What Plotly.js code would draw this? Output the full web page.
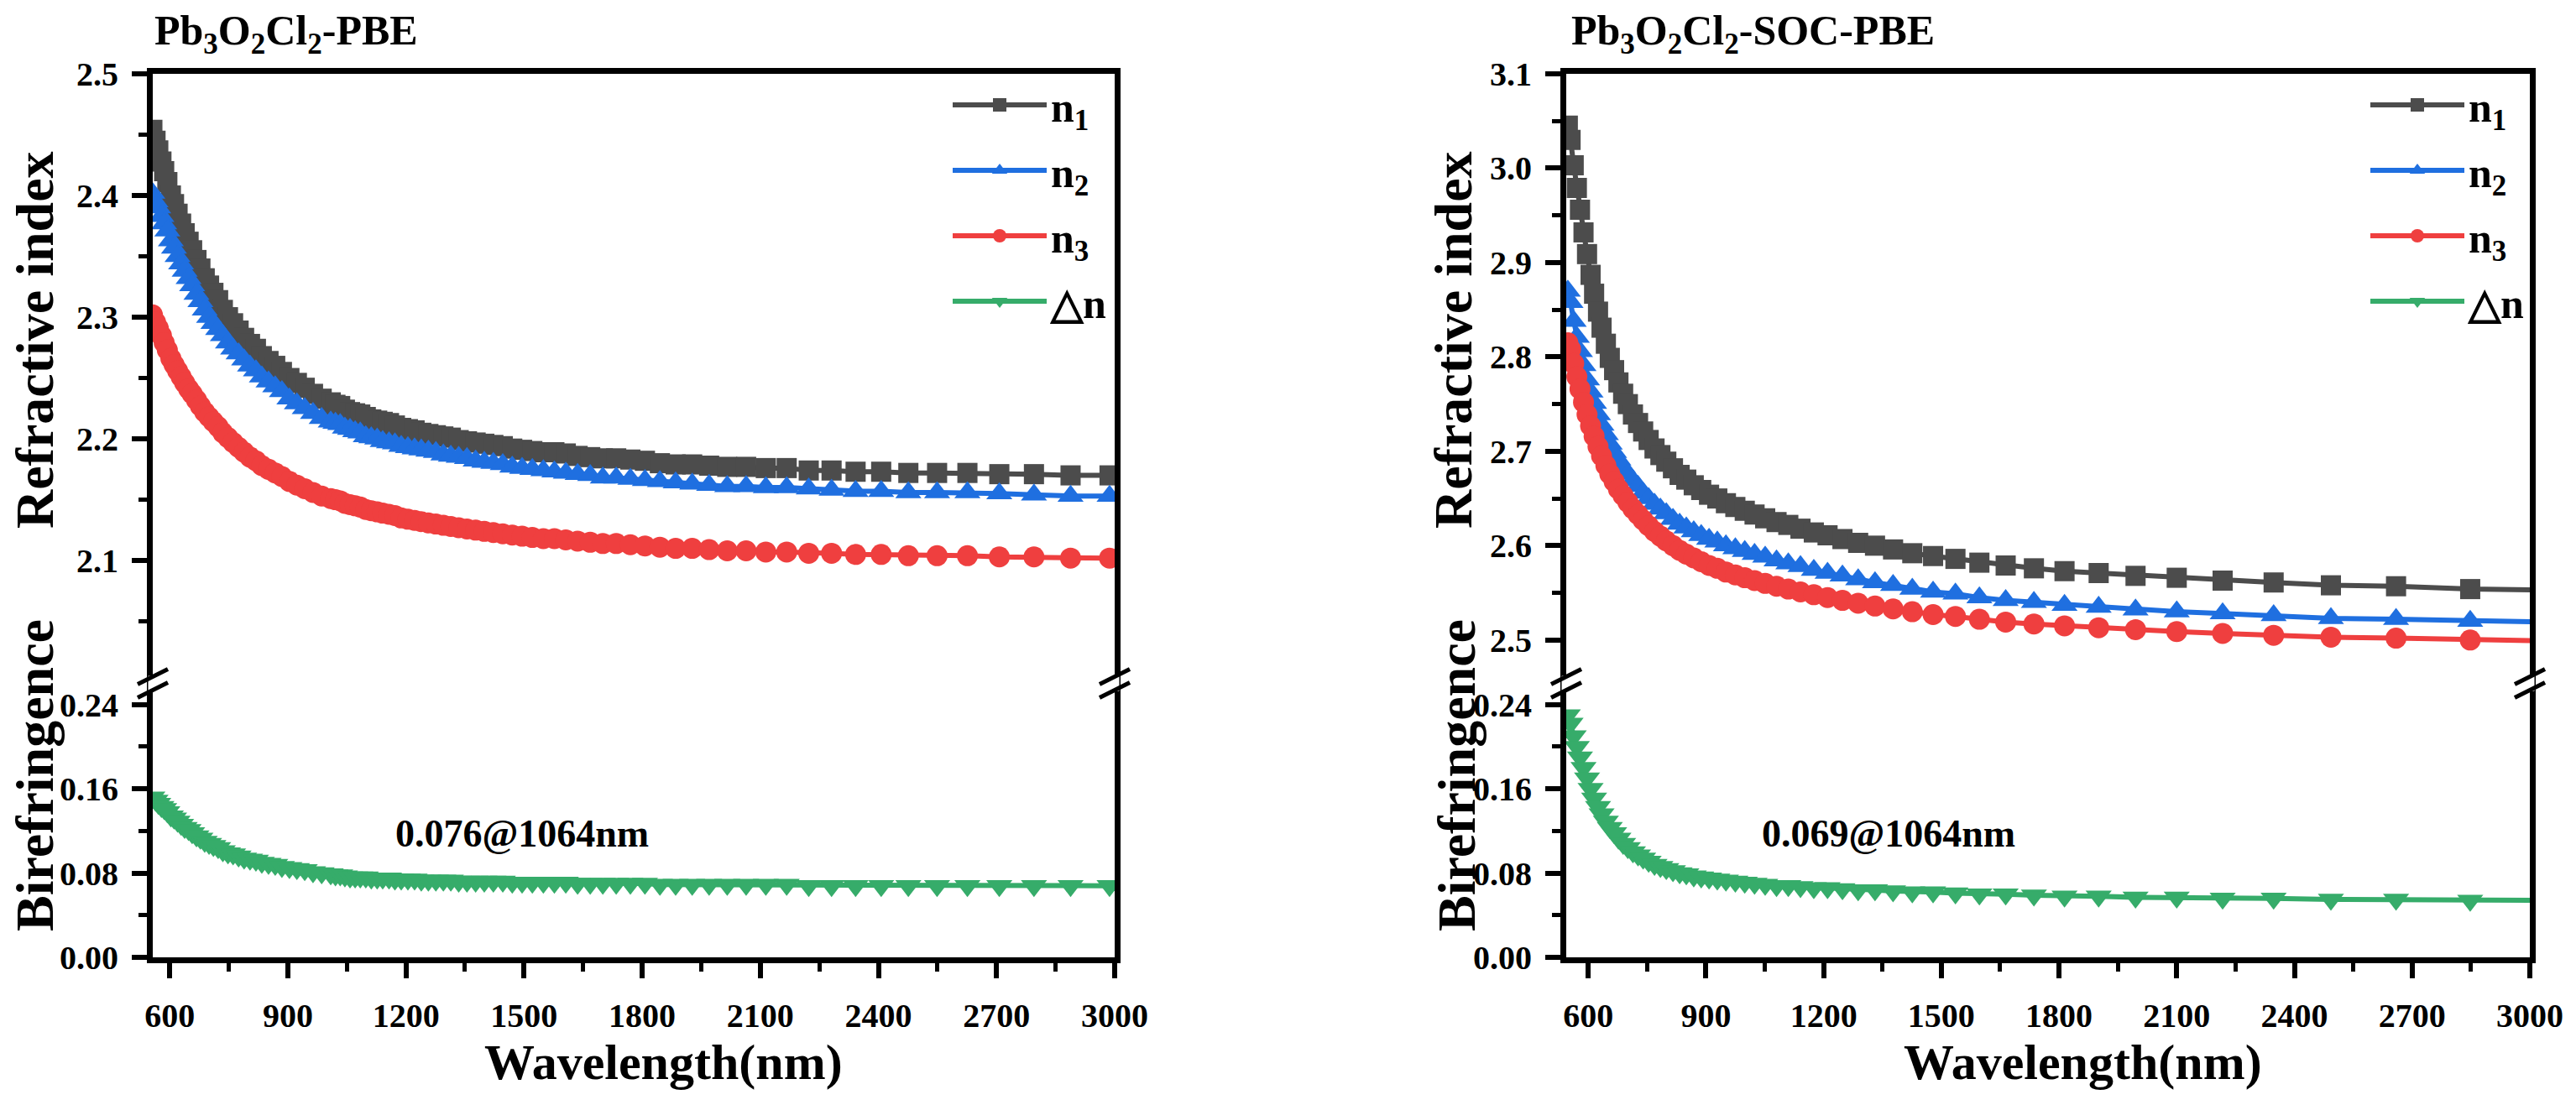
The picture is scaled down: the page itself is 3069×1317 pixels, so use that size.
<!DOCTYPE html>
<html>
<head>
<meta charset="utf-8">
<script src="https://cdn.plot.ly/plotly-3.0.1.min.js"></script>
<style>html,body{margin:0;padding:0;background:#fff;}#chart{width:3069px;height:1317px;}</style>
</head>
<body>
<div id="chart"></div>
<script>
// ---------- Data: Pb3O2Cl2-PBE (left) ----------
const wlL = [556,564,571,579,586,594,603,611,620,629,638,648,657,668,678,689,700,711,723,735,748,761,775,789,804,819,834,851,868,885,904,923,943,964,986,1009,1021,1033,1045,1058,1071,1084,1098,1112,1127,1141,1157,1172,1188,1205,1222,1239,1257,1276,1295,1314,1334,1355,1377,1399,1422,1446,1470,1495,1521,1549,1577,1606,1636,1668,1700,1734,1770,1807,1845,1885,1927,1970,2016,2064,2114,2167,2223,2281,2342,2407,2476,2549,2626,2707,2795,2888,2987];
const n1L = [2.454,2.445,2.437,2.428,2.420,2.411,2.400,2.393,2.385,2.377,2.369,2.362,2.355,2.347,2.340,2.332,2.326,2.320,2.314,2.306,2.300,2.295,2.289,2.283,2.278,2.274,2.268,2.264,2.260,2.255,2.250,2.246,2.242,2.237,2.233,2.230,2.228,2.227,2.224,2.222,2.221,2.220,2.218,2.216,2.215,2.214,2.213,2.211,2.209,2.208,2.207,2.205,2.204,2.203,2.202,2.201,2.199,2.198,2.197,2.196,2.195,2.194,2.192,2.191,2.190,2.189,2.189,2.188,2.186,2.185,2.184,2.184,2.183,2.182,2.180,2.179,2.179,2.178,2.177,2.177,2.176,2.176,2.174,2.174,2.173,2.173,2.172,2.172,2.172,2.171,2.171,2.170,2.170];
const n2L = [2.402,2.395,2.390,2.383,2.377,2.371,2.363,2.357,2.350,2.344,2.338,2.332,2.326,2.319,2.313,2.306,2.300,2.295,2.290,2.285,2.279,2.274,2.270,2.265,2.260,2.256,2.251,2.247,2.243,2.239,2.233,2.229,2.225,2.221,2.217,2.214,2.213,2.212,2.209,2.208,2.206,2.205,2.202,2.201,2.200,2.198,2.197,2.196,2.194,2.193,2.192,2.191,2.190,2.189,2.187,2.186,2.185,2.184,2.182,2.181,2.180,2.179,2.177,2.176,2.175,2.174,2.173,2.172,2.171,2.170,2.168,2.168,2.167,2.166,2.165,2.164,2.163,2.162,2.161,2.161,2.160,2.160,2.159,2.158,2.157,2.157,2.156,2.156,2.156,2.155,2.154,2.153,2.153];
const n3L = [2.302,2.296,2.291,2.285,2.279,2.273,2.266,2.261,2.256,2.251,2.246,2.241,2.237,2.232,2.227,2.222,2.218,2.214,2.210,2.205,2.201,2.197,2.193,2.189,2.185,2.182,2.178,2.175,2.172,2.169,2.165,2.162,2.159,2.156,2.153,2.151,2.150,2.149,2.147,2.146,2.145,2.144,2.142,2.141,2.140,2.139,2.138,2.137,2.135,2.134,2.133,2.132,2.131,2.130,2.129,2.128,2.127,2.126,2.125,2.124,2.123,2.122,2.121,2.120,2.119,2.118,2.118,2.117,2.116,2.115,2.114,2.114,2.113,2.112,2.111,2.110,2.110,2.109,2.108,2.108,2.107,2.107,2.106,2.106,2.105,2.105,2.104,2.104,2.104,2.103,2.103,2.102,2.102];
const dnL = [0.152,0.149,0.146,0.143,0.141,0.138,0.134,0.132,0.129,0.126,0.123,0.121,0.118,0.115,0.113,0.110,0.108,0.106,0.104,0.101,0.099,0.098,0.096,0.094,0.093,0.092,0.090,0.089,0.088,0.086,0.085,0.084,0.083,0.081,0.080,0.079,0.078,0.078,0.077,0.076,0.076,0.076,0.076,0.075,0.075,0.075,0.075,0.074,0.074,0.074,0.074,0.073,0.073,0.073,0.073,0.073,0.072,0.072,0.072,0.072,0.072,0.072,0.071,0.071,0.071,0.071,0.071,0.071,0.070,0.070,0.070,0.070,0.070,0.070,0.069,0.069,0.069,0.069,0.069,0.069,0.069,0.069,0.068,0.068,0.068,0.068,0.068,0.068,0.068,0.068,0.068,0.068,0.068];

// ---------- Data: Pb3O2Cl2-SOC-PBE (right) ----------
const wlR = [548,555,563,571,579,588,597,606,615,625,634,645,655,666,677,689,701,714,727,740,754,769,784,799,816,833,850,869,888,908,929,951,975,999,1024,1051,1080,1110,1141,1175,1210,1248,1288,1331,1377,1426,1479,1536,1597,1664,1736,1814,1901,1995,2100,2217,2347,2493,2659,2848,3066];
const n1R = [3.045,3.030,3.003,2.979,2.956,2.932,2.909,2.887,2.867,2.848,2.831,2.814,2.799,2.786,2.773,2.761,2.750,2.739,2.730,2.721,2.712,2.703,2.696,2.689,2.682,2.675,2.670,2.664,2.659,2.654,2.650,2.645,2.641,2.637,2.633,2.629,2.625,2.622,2.618,2.614,2.611,2.607,2.603,2.600,2.596,2.592,2.589,2.586,2.582,2.579,2.576,2.573,2.571,2.568,2.566,2.563,2.561,2.558,2.557,2.554,2.553];
const n2R = [2.870,2.858,2.838,2.821,2.806,2.791,2.776,2.763,2.751,2.739,2.728,2.718,2.708,2.699,2.691,2.683,2.676,2.669,2.663,2.656,2.650,2.644,2.639,2.634,2.628,2.623,2.619,2.615,2.611,2.607,2.604,2.600,2.597,2.594,2.591,2.588,2.584,2.581,2.578,2.574,2.571,2.568,2.564,2.561,2.558,2.554,2.551,2.549,2.545,2.542,2.540,2.537,2.535,2.532,2.530,2.528,2.526,2.523,2.522,2.520,2.519];
const n3R = [2.815,2.808,2.793,2.779,2.766,2.752,2.739,2.727,2.716,2.705,2.695,2.685,2.676,2.668,2.660,2.653,2.646,2.639,2.633,2.627,2.621,2.615,2.610,2.605,2.600,2.595,2.591,2.587,2.583,2.579,2.576,2.572,2.569,2.566,2.563,2.560,2.557,2.554,2.551,2.548,2.545,2.542,2.539,2.536,2.533,2.530,2.527,2.525,2.522,2.519,2.517,2.515,2.513,2.511,2.509,2.507,2.505,2.503,2.502,2.500,2.499];
const dnR = [0.230,0.222,0.210,0.200,0.190,0.180,0.170,0.160,0.151,0.143,0.136,0.129,0.123,0.118,0.113,0.108,0.104,0.100,0.097,0.094,0.091,0.088,0.086,0.084,0.082,0.080,0.079,0.077,0.076,0.075,0.074,0.073,0.072,0.071,0.070,0.069,0.068,0.068,0.067,0.066,0.066,0.065,0.064,0.064,0.063,0.062,0.062,0.061,0.060,0.060,0.059,0.058,0.058,0.057,0.057,0.056,0.056,0.055,0.055,0.054,0.054];

// ---------- Tick labels ----------
const xTickVals = [600,900,1200,1500,1800,2100,2400,2700,3000];
const xTickText = ['600','900','1200','1500','1800','2100','2400','2700','3000'];
const xMinorVals = [750,1050,1350,1650,1950,2250,2550,2850];
const bTickVals = [0,0.08,0.16,0.24];
const bTickText = ['0.00','0.08','0.16','0.24'];
const bMinorVals = [0.04,0.12,0.20];
const rTickValsL = [2.1,2.2,2.3,2.4,2.5];
const rTickTextL = ['2.1','2.2','2.3','2.4','2.5'];
const rMinorValsL = [2.05,2.15,2.25,2.35,2.45];
const rTickValsR = [2.5,2.6,2.7,2.8,2.9,3.0,3.1];
const rTickTextR = ['2.5','2.6','2.7','2.8','2.9','3.0','3.1'];
const rMinorValsR = [2.55,2.65,2.75,2.85,2.95,3.05];
const seriesNames = ['n<sub>1</sub>','n<sub>2</sub>','n<sub>3</sub>','\u25B3n'];

// ---------- Styling ----------
const FAM = 'Liberation Serif, Times New Roman, serif';
const colors = ['#4c4c4c','#1f6fe0','#ef3f3f','#36ac6a'];
const symbols = ['square','triangle-up','circle','triangle-down'];
const msize = [24,27,25,27];

function tr(x, y, i, xa, ya, leg) {
  return {
    x: x, y: y, type: 'scatter', mode: 'lines+markers',
    name: seriesNames[i], xaxis: xa, yaxis: ya, legend: leg, legendgroup: leg + i,
    line: {color: colors[i], width: 6},
    marker: {color: colors[i], symbol: symbols[i], size: msize[i], line: {width: 0}},
    cliponaxis: true, hoverinfo: 'skip'
  };
}

const data = [
  tr(wlL, n1L, 0, 'x2', 'y2', 'legend'),
  tr(wlL, n2L, 1, 'x2', 'y2', 'legend'),
  tr(wlL, n3L, 2, 'x2', 'y2', 'legend'),
  tr(wlL, dnL, 3, 'x', 'y', 'legend'),
  tr(wlR, n1R, 0, 'x4', 'y4', 'legend2'),
  tr(wlR, n2R, 1, 'x4', 'y4', 'legend2'),
  tr(wlR, n3R, 2, 'x4', 'y4', 'legend2'),
  tr(wlR, dnR, 3, 'x3', 'y3', 'legend2')
];

const W = 3069, H = 1317;
const domL = [182 / W, 1328 / W];
const domR = [1866 / W, 3014 / W];
const SPLIT = 0.31;
const tickFont = {family: FAM, size: 40, color: '#000', weight: 'bold'};

function xBottom(dom, range, anchor) {
  return {domain: dom, range: range, anchor: anchor, showline: true, linewidth: 7, linecolor: '#000',
    ticks: 'outside', ticklen: 18, tickwidth: 6, tickcolor: '#000',
    tickmode: 'array', tickvals: xTickVals, ticktext: xTickText,
    minor: {tickmode: 'array', tickvals: xMinorVals, ticks: 'outside', ticklen: 10, tickwidth: 5, tickcolor: '#000'},
    showgrid: false, zeroline: false, tickfont: tickFont, ticklabelstandoff: 10};
}
function xTop(dom, range, anchor) {
  return {domain: dom, range: range, anchor: anchor, side: 'top', showline: true, linewidth: 7, linecolor: '#000',
    ticks: '', showticklabels: false, showgrid: false, zeroline: false};
}
function yAx(dom, range, anchor, tv, tt, mv) {
  return {domain: dom, range: range, anchor: anchor, showline: true, mirror: true, linewidth: 7, linecolor: '#000',
    ticks: 'outside', ticklen: 18, tickwidth: 6, tickcolor: '#000',
    tickmode: 'array', tickvals: tv, ticktext: tt,
    minor: {tickmode: 'array', tickvals: mv, ticks: 'outside', ticklen: 10, tickwidth: 5, tickcolor: '#000'},
    showgrid: false, zeroline: false, tickfont: tickFont, ticklabelstandoff: 8};
}

function py(pix) { return (1141 - pix) / 1053; }
function ann(text, xpix, ypix, size, extra) {
  return Object.assign({text: text, x: xpix / W, y: py(ypix), xref: 'paper', yref: 'paper', showarrow: false,
    xanchor: 'center', yanchor: 'middle', font: {family: FAM, size: size, color: '#000', weight: 'bold'}}, extra || {});
}

const annotations = [
  ann('Pb<sub>3</sub>O<sub>2</sub>Cl<sub>2</sub>-PBE', 182, 40, 50, {xanchor: 'left'}),
  ann('Pb<sub>3</sub>O<sub>2</sub>Cl<sub>2</sub>-SOC-PBE', 1870, 40, 50, {xanchor: 'left'}),
  ann('Refractive index', 41, 405, 64, {textangle: -90}),
  ann('Birefringence', 41, 924, 64, {textangle: -90}),
  ann('Refractive index', 1731, 405, 64, {textangle: -90}),
  ann('Birefringence', 1735, 924, 64, {textangle: -90}),
  ann('Wavelength(nm)', 790, 1266, 60),
  ann('Wavelength(nm)', 2481, 1266, 60),
  ann('0.076@1064nm', 622, 993, 46),
  ann('0.069@1064nm', 2250, 993, 46)
];

// axis-break marks
const shapes = [];
[182, 1328, 1866, 3014].forEach(function (xp) {
  const xa = xp / W;
  shapes.push({type: 'line', xref: 'paper', yref: 'paper', xsizemode: 'pixel', ysizemode: 'pixel',
    xanchor: xa, yanchor: SPLIT, x0: 0, x1: 0, y0: -9, y1: 9, line: {color: '#fff', width: 11}, layer: 'above'});
  [-8, 8].forEach(function (off) {
    shapes.push({type: 'line', xref: 'paper', yref: 'paper', xsizemode: 'pixel', ysizemode: 'pixel',
      xanchor: xa, yanchor: SPLIT, x0: -18, x1: 18, y0: off - 9, y1: off + 9,
      line: {color: '#000', width: 5}, layer: 'above'});
  });
});

const legendBase = {bgcolor: 'rgba(0,0,0,0)', borderwidth: 0, itemwidth: 112, tracegroupgap: 10,
  font: {family: FAM, size: 50, color: '#000', weight: 'bold'}, xanchor: 'left', yanchor: 'top'};

const layout = {
  width: W, height: H, paper_bgcolor: '#fff', plot_bgcolor: 'rgba(0,0,0,0)',
  margin: {l: 0, r: 0, t: 88, b: 176, autoexpand: false},
  showlegend: true,
  xaxis: xBottom(domL, [557, 3000], 'y'),
  yaxis: yAx([0, SPLIT], [0, 0.26], 'x', bTickVals, bTickText, bMinorVals),
  xaxis2: xTop(domL, [557, 3000], 'y2'),
  yaxis2: yAx([SPLIT, 1], [1.999, 2.5], 'x2', rTickValsL, rTickTextL, rMinorValsL),
  xaxis3: xBottom(domR, [544, 3000], 'y3'),
  yaxis3: yAx([0, SPLIT], [0, 0.26], 'x3', bTickVals, bTickText, bMinorVals),
  xaxis4: xTop(domR, [544, 3000], 'y4'),
  yaxis4: yAx([SPLIT, 1], [2.454, 3.1], 'x4', rTickValsR, rTickTextR, rMinorValsR),
  legend: Object.assign({x: 1130 / W, y: py(86)}, legendBase),
  legend2: Object.assign({x: 2819 / W, y: py(86)}, legendBase),
  annotations: annotations,
  shapes: shapes
};

Plotly.newPlot('chart', data, layout, {displayModeBar: false, responsive: false});
</script>
</body>
</html>
